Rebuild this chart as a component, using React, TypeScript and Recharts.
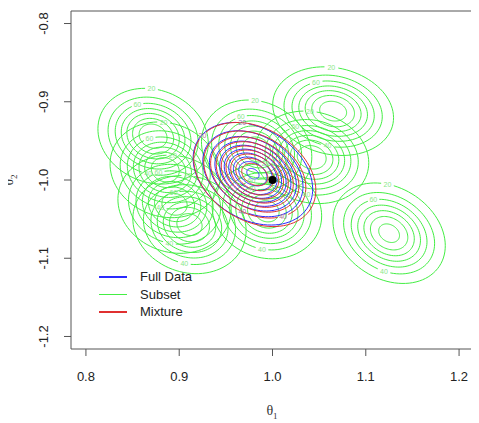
import { ScatterChart, Scatter, XAxis, YAxis, ReferenceArea, ReferenceDot } from 'recharts';

// density contour levels (same set for every posterior)
const contourLevels = [20, 40, 60, 80, 100, 120, 140, 160, 180, 200];

// subset posteriors (green)
const subsetMeanX = [0.872, 0.885, 0.895, 0.911, 0.983, 0.994, 1.042, 1.065, 1.125];
const subsetMeanY = [-0.944, -0.987, -1.031, -1.057, -0.961, -1.040, -0.971, -0.912, -1.068];
const subsetSdX = [0.029, 0.029, 0.030, 0.030, 0.029, 0.029, 0.030, 0.032, 0.030];
const subsetSdY = [0.030, 0.030, 0.031, 0.031, 0.031, 0.030, 0.029, 0.028, 0.032];
const subsetRho = [-0.15, -0.12, -0.1, -0.12, -0.15, -0.1, -0.12, -0.15, -0.25];
const subsetPeak = [160, 160, 155, 155, 160, 155, 160, 155, 150];

// full data posterior (blue) and mixture (red)
const fullMean = [0.979, -0.992];
const fullSd = [0.0297, 0.0304];
const fullRho = -0.3;
const fullPeak = 205;
const mixMean = [0.981, -0.993];
const mixSd = [0.0305, 0.031];
const mixRho = -0.3;
const mixPeak = 200;

const trueValue = { x: 1.0, y: -1.0 };

const xTicks = [0.8, 0.9, 1.0, 1.1, 1.2];
const yTicks = [-1.2, -1.1, -1.0, -0.9, -0.8];

const GREEN = '#44ee44';
const BLUE = '#2a2aff';
const RED = '#e03030';
const FONT = '"Liberation Sans", Arial, Helvetica, sans-serif';

const legendEntries = [
  { name: 'Full Data', color: BLUE },
  { name: 'Subset', color: GREEN },
  { name: 'Mixture', color: RED },
];

type Pt = { x: number; y: number };
type Label = Pt & { label: string };

// elliptical contours of a bivariate normal shape with the given peak height;
// the first few rings get a level label placed in a gap of the line
function contourRings(
  mx: number,
  my: number,
  sx: number,
  sy: number,
  rho: number,
  peak: number,
  labelAngles: number[]
) {
  const s = Math.sqrt(1 - rho * rho);
  const rings: { level: number; pts: Pt[] }[] = [];
  const labels: Label[] = [];
  contourLevels.forEach((level, k) => {
    if (level >= peak) return;
    const r = Math.sqrt(2 * Math.log(peak / level));
    const at = (t: number): Pt => ({
      x: mx + r * sx * Math.cos(t),
      y: my + r * sy * (rho * Math.cos(t) + s * Math.sin(t)),
    });
    const radPx = (r * (sx * 933 + sy * 782)) / 2;
    const tl = k < labelAngles.length ? labelAngles[k] : 0;
    const gap = k < labelAngles.length && radPx > 16 ? 6 / radPx : 0;
    const n = 90;
    const pts: Pt[] = [];
    for (let i = 0; i <= n; i++) {
      pts.push(at(tl + gap + ((2 * Math.PI - 2 * gap) * i) / n));
    }
    rings.push({ level, pts });
    if (gap > 0) labels.push({ ...at(tl), label: String(level) });
  });
  return { rings, labels };
}

const subsetContours = subsetMeanX.map((mx, i) =>
  contourRings(mx, subsetMeanY[i], subsetSdX[i], subsetSdY[i], subsetRho[i], subsetPeak[i], [1.6, 4.6, 2.0])
);
const fullContours = contourRings(fullMean[0], fullMean[1], fullSd[0], fullSd[1], fullRho, fullPeak, [1.75, 4.5]);
const mixContours = contourRings(mixMean[0], mixMean[1], mixSd[0], mixSd[1], mixRho, mixPeak, [2.6, 5.3]);

const noDot = () => <g />;

const labelShape = (color: string) => (p: any) => (
  <text x={p.cx} y={p.cy} dy="0.35em" textAnchor="middle" fontSize={7} fill={color} fontFamily={FONT}>
    {p.payload.label}
  </text>
);

const XTick = (p: any) => (
  <text x={p.x} y={p.y} dy="0.71em" textAnchor="middle" fontSize={13} fill="#222" fontFamily={FONT}>
    {p.payload.value.toFixed(1)}
  </text>
);

const YTick = (p: any) => (
  <text
    x={p.x}
    y={p.y}
    textAnchor="middle"
    fontSize={13}
    fill="#222"
    fontFamily={FONT}
    transform={`rotate(-90, ${p.x}, ${p.y})`}
  >
    {p.payload.value.toFixed(1)}
  </text>
);

export default function App() {
  const series: JSX.Element[] = [];
  const addRings = (rings: { pts: Pt[] }[], color: string, id: string) =>
    rings.forEach((ring, j) =>
      series.push(
        <Scatter
          key={`${id}-${j}`}
          data={ring.pts}
          line={{ stroke: color, strokeWidth: 1 }}
          lineType="joint"
          shape={noDot}
          isAnimationActive={false}
        />
      )
    );
  subsetContours.forEach((c, i) => addRings(c.rings, GREEN, `s${i}`));
  addRings(fullContours.rings, BLUE, 'f');
  addRings(mixContours.rings, RED, 'm');
  const subsetLabels = subsetContours.flatMap((c) => c.labels);

  return (
    <div style={{ position: 'relative', width: 471, height: 415 }}>
      <ScatterChart width={471} height={415} margin={{ top: 3, right: 5, bottom: 0, left: 0 }}>
        <XAxis
          type="number"
          dataKey="x"
          domain={[0.784, 1.216]}
          allowDataOverflow
          ticks={xTicks}
          interval={0}
          tick={XTick}
          tickSize={7}
          tickMargin={16}
          tickLine={{ stroke: '#555' }}
          axisLine={false}
          height={74}
        />
        <YAxis
          type="number"
          dataKey="y"
          domain={[-1.216, -0.784]}
          allowDataOverflow
          ticks={yTicks}
          interval={0}
          tick={YTick}
          tickSize={7}
          tickMargin={16}
          tickLine={{ stroke: '#555' }}
          axisLine={false}
          width={63}
        />
        {series}
        <Scatter data={subsetLabels} shape={labelShape('#88e888')} isAnimationActive={false} />
        <Scatter data={fullContours.labels} shape={labelShape('#8a7ab0')} isAnimationActive={false} />
        <Scatter data={mixContours.labels} shape={labelShape('#b07a8a')} isAnimationActive={false} />
        <ReferenceDot x={trueValue.x} y={trueValue.y} r={4} fill="#000" stroke="none" />
        <ReferenceArea
          x1={0.784}
          x2={1.216}
          y1={-1.216}
          y2={-0.784}
          fill="none"
          stroke="#555"
          strokeWidth={1}
          ifOverflow="visible"
        />
      </ScatterChart>

      {/* axis titles */}
      <div
        style={{
          position: 'absolute',
          left: 264,
          top: 404,
          transform: 'translate(-50%, -50%)',
          fontFamily: '"Liberation Serif", serif',
          fontSize: 14,
          color: '#333',
          whiteSpace: 'nowrap',
        }}
      >
        θ<sub style={{ fontSize: 9 }}>1</sub>
      </div>
      <div
        style={{
          position: 'absolute',
          left: 2,
          top: 172,
          transform: 'translate(-50%, -50%) rotate(-90deg)',
          fontFamily: '"Liberation Serif", serif',
          fontSize: 14,
          color: '#333',
          whiteSpace: 'nowrap',
        }}
      >
        θ<sub style={{ fontSize: 9 }}>2</sub>
      </div>

      {/* legend */}
      {legendEntries.map((e, i) => (
        <div
          key={e.name}
          style={{ position: 'absolute', left: 91, top: 261 + i * 17.5, height: 16, display: 'flex', alignItems: 'center' }}
        >
          <div style={{ width: 28, height: 1.5, background: e.color }} />
          <span style={{ marginLeft: 13, fontFamily: FONT, fontSize: 13, color: '#222', lineHeight: '16px' }}>
            {e.name}
          </span>
        </div>
      ))}
    </div>
  );
}
